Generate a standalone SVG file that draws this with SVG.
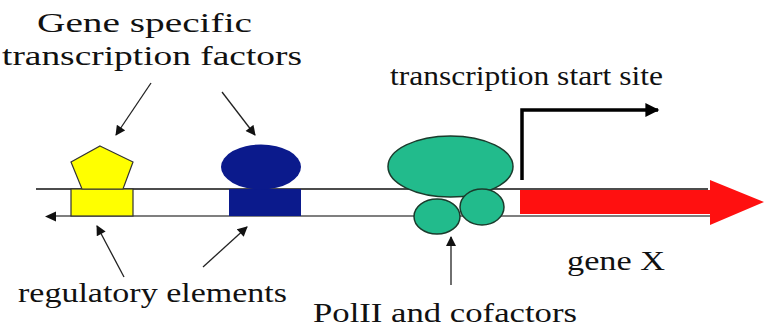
<svg xmlns="http://www.w3.org/2000/svg" width="764" height="330" viewBox="0 0 764 330">
<style>
.ptr{stroke:#222;stroke-width:1.3;fill:none}
.dna{stroke-width:1.6;fill:none}
.green{fill:#22bb8c;stroke:#1b3b2c;stroke-width:1.5}
</style>
<defs>
<marker id="ah" viewBox="0 0 10 10" refX="9" refY="5" markerWidth="11" markerHeight="10" markerUnits="userSpaceOnUse" orient="auto">
<path d="M0,0 L10,5 L0,10 z" fill="#111"/>
</marker>
<marker id="ahb" viewBox="0 0 10 10" refX="9" refY="5" markerWidth="18" markerHeight="14" markerUnits="userSpaceOnUse" orient="auto">
<path d="M0,0 L10,5 L0,10 z" fill="#000"/>
</marker>
</defs>
<rect width="764" height="330" fill="#fff"/>
<g id="dna">
<line class="dna" x1="36" y1="189" x2="708" y2="189" stroke="#111"/>
<line class="dna" x1="50" y1="216" x2="712" y2="216" stroke="#555"/>
<path d="M45,216.5 L56,211.5 L56,221.5 z" fill="#111"/>
</g>
<g id="yellow-factor">
<rect x="71" y="189" width="62" height="27" fill="#ffff00" stroke="#333" stroke-width="1.2"/>
<polygon points="100,146 133,162 123,189 82,189 71,162" fill="#ffff00" stroke="#333" stroke-width="1.2"/>
</g>
<g id="blue-factor">
<rect x="229" y="189" width="72" height="27" fill="#0b1a8c"/>
<ellipse cx="261" cy="167" rx="40" ry="22.5" fill="#0b1a8c"/>
</g>
<g id="gene-x">
<path d="M520,190 L710,190 L710,180 L764,202 L710,225 L710,214 L520,214 z" fill="#ff1010"/>
</g>
<g id="polii">
<ellipse class="green" cx="450.5" cy="166.5" rx="62.5" ry="30.5"/>
<ellipse class="green" cx="437" cy="216.5" rx="23" ry="17.5"/>
<ellipse class="green" cx="482" cy="207" rx="22" ry="18"/>
</g>
<g id="tss">
<polyline points="522,180 522,110 658,110" fill="none" stroke="#000" stroke-width="3.5" marker-end="url(#ahb)"/>
</g>
<g id="connectors">
<line class="ptr" x1="151" y1="83" x2="116" y2="135" marker-end="url(#ah)"/>
<line class="ptr" x1="222" y1="92" x2="255" y2="135" marker-end="url(#ah)"/>
<line class="ptr" x1="124" y1="277" x2="97" y2="226" marker-end="url(#ah)"/>
<line class="ptr" x1="203" y1="267" x2="247" y2="227" marker-end="url(#ah)"/>
<line class="ptr" x1="451" y1="285" x2="451" y2="237" marker-end="url(#ah)"/>
</g>
<g id="labels" font-family="Liberation Serif, serif" font-size="27" fill="#111">
<text x="37" y="32" textLength="215" lengthAdjust="spacingAndGlyphs">Gene specific</text>
<text x="2" y="65" textLength="300" lengthAdjust="spacingAndGlyphs">transcription factors</text>
<text x="390" y="85" textLength="273" lengthAdjust="spacingAndGlyphs">transcription start site</text>
<text x="18" y="302" textLength="269" lengthAdjust="spacingAndGlyphs">regulatory elements</text>
<text x="313" y="322" textLength="264" lengthAdjust="spacingAndGlyphs">PolII and cofactors</text>
<text x="567" y="270" textLength="98" lengthAdjust="spacingAndGlyphs">gene X</text>
</g>
</svg>
